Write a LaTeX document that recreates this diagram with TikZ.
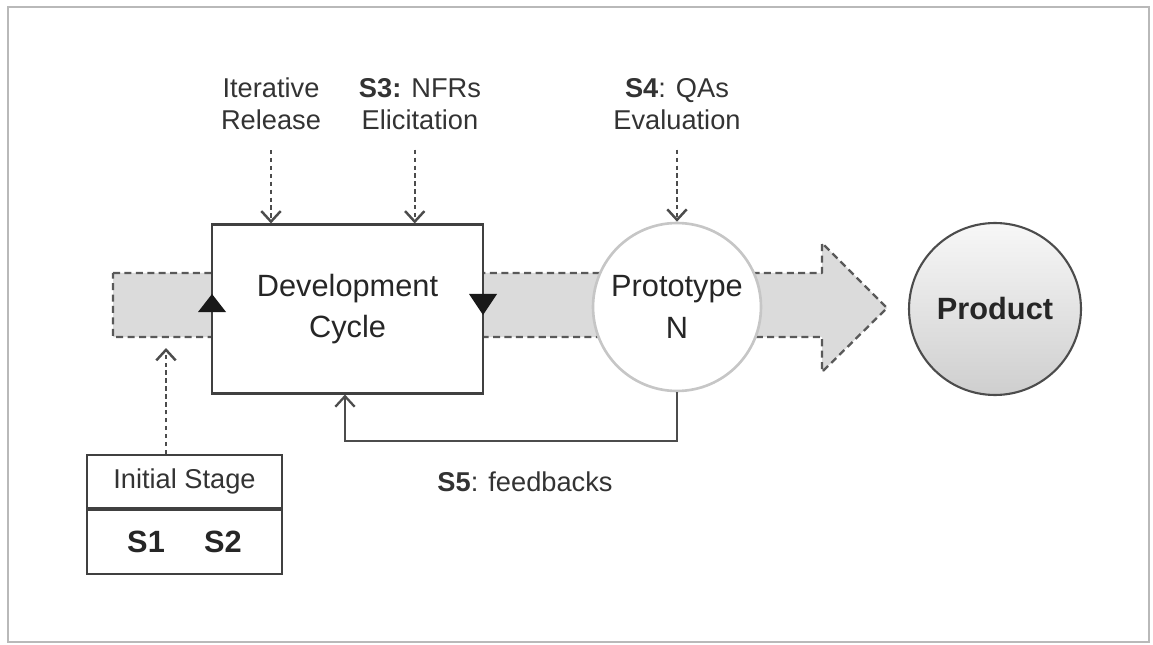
\documentclass[tikz,border=0pt]{standalone}
\usepackage{fontspec}
\setmainfont{Liberation Sans}
\usetikzlibrary{arrows.meta,positioning}

\begin{document}
\begin{tikzpicture}[x=0.02cm,y=-0.02cm,
  lbl/.style={text=black!80,align=center,font=\fontsize{15.5}{18}\selectfont},
  big/.style={text=black!85,align=center,font=\fontsize{17.5}{23.5}\selectfont},
  dasharrow/.style={draw=black!70,line width=1.4pt,dash pattern=on 2.5pt off 2pt,
    -{Straight Barb[length=6pt,width=11pt]}},
  stage/.style={draw=black!75,line width=1.2pt,minimum width=3.9cm,inner sep=0pt}]
\useasboundingbox (0,0) rectangle (1153,645);
\draw[gray!55,line width=1.4pt] (8,7) rectangle (1149,642);

% grey process arrow
\draw[fill=gray!28,draw=black!65,line width=1.3pt,dash pattern=on 4pt off 2.5pt,line join=round]
  (113,273) -- (822,273) -- (822,243) -- (887,308) -- (822,372) -- (822,337) -- (113,337) -- cycle;

\node[draw=black!75,line width=1.2pt,fill=white,minimum width=5.42cm,minimum height=3.38cm,big]
  (dev) at (347.5,309) {Development\\Cycle};
\fill[black!90] (198,312) -- (226,312) -- (212,294) -- cycle;
\fill[black!90] (469,294) -- (497,294) -- (483,315) -- cycle;

\node[circle,draw=gray!45,line width=1.5pt,fill=white,minimum size=3.36cm,big]
  (proto) at (677,307) {Prototype\\N};
\node[circle,draw=black!70,line width=1.2pt,top color=gray!6,bottom color=gray!38,
  minimum size=3.44cm,big] (prod) at (995,309) {\textbf{Product}};

% inputs from above
\node[lbl] (iter) at (271,104) {Iterative\\Release};
\node[lbl] (nfr) at (420,104) {\textbf{S3:} NFRs\\Elicitation};
\node[lbl] (qa) at (677,104) {\textbf{S4}: QAs\\Evaluation};
\draw[dasharrow] ([yshift=-8pt]iter.south) -- (iter.south |- dev.north);
\draw[dasharrow] ([xshift=-3,yshift=-8pt]nfr.south) -- ([xshift=-3]nfr.south |- dev.north);
\draw[dasharrow] ([yshift=-8pt]qa.south) -- (proto.north);

% initial stage
\node[stage,minimum height=1.06cm,lbl] (init) at (184.5,481.5) {Initial Stage};
\node[stage,minimum height=1.28cm,below=0pt of init,big] (steps) {\textbf{S1\quad\ S2}};
\coordinate (inTip) at (166,348);
\draw[dasharrow] (inTip |- init.north) -- (inTip);

% feedback loop
\coordinate (fbCorner) at (345,441);
\draw[draw=black!70,line width=1.3pt,-{Straight Barb[length=6pt,width=11pt]}]
  (proto.south) |- (fbCorner) -- (fbCorner |- dev.south);
\node[lbl] (fb) at (525,482) {\textbf{S5}: feedbacks};
\end{tikzpicture}
\end{document}
